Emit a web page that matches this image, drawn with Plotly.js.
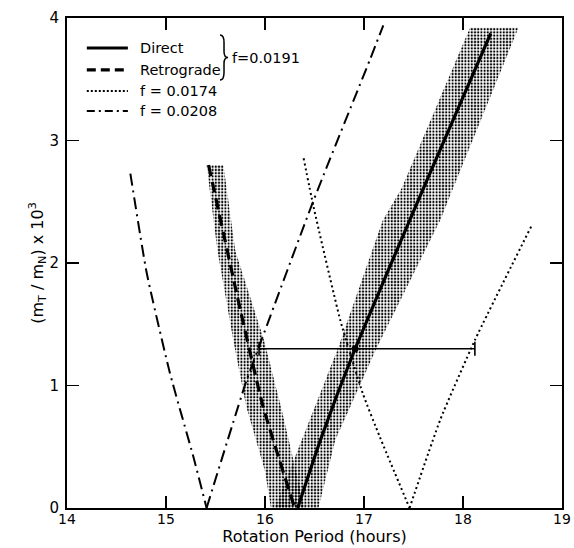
<!DOCTYPE html>
<html>
<head>
<meta charset="utf-8">
<script src="https://cdn.plot.ly/plotly-3.0.1.min.js"></script>
<style>
html,body{margin:0;padding:0;background:#fff;}
#chart{width:574px;height:548px;}
</style>
</head>
<body>
<div id="chart"></div>
<script>
// ---- Data ----
// f = 0.0191 direct branch
var directX = [16.33, 16.56, 16.91, 17.60, 18.28];
var directY = [0, 0.555, 1.30, 2.61, 3.875];
// f = 0.0191 retrograde branch
var retroX = [15.43, 15.75, 15.98, 16.30];
var retroY = [2.80, 1.62, 0.83, 0];
// f = 0.0174 (left and right branches)
var f174LeftX = [16.39, 16.49, 16.76, 16.99, 17.16, 17.46];
var f174LeftY = [2.855, 2.46, 1.535, 0.93, 0.58, 0];
var f174RightX = [17.46, 17.77, 18.12, 18.69];
var f174RightY = [0, 0.72, 1.37, 2.30];
// f = 0.0208 (left and right branches)
var f208LeftX = [14.64, 14.805, 15.04, 15.276, 15.41];
var f208LeftY = [2.73, 1.92, 1.10, 0.42, 0];
var f208RightX = [15.41, 15.815, 15.95, 16.49, 17.06, 17.195];
var f208RightY = [0, 1.045, 1.34, 2.51, 3.66, 3.94];
// uncertainty bands (stippled)
var bandRetroX = [15.41, 15.52, 15.68, 15.81, 16.00, 16.06, 16.40, 16.16, 15.99, 15.70, 15.58, 15.41];
var bandRetroY = [2.80, 2.10, 1.37, 0.83, 0.30, 0, 0, 0.83, 1.37, 2.10, 2.80, 2.80];
var bandDirectX = [16.10, 16.37, 16.74, 17.19, 17.38, 18.07, 18.56, 17.90, 17.77, 17.13, 16.71, 16.54, 16.10];
var bandDirectY = [0, 0.555, 1.31, 2.35, 2.61, 3.92, 3.92, 2.61, 2.35, 1.31, 0.555, 0, 0];
// measured point with horizontal error bar
var obsX = [16.91];
var obsY = [1.30];
var obsErrPlus = [1.21];
var obsErrMinus = [0.97];
// tick labels
var xTicks = [14, 15, 16, 17, 18, 19];
var yTicks = [0, 1, 2, 3, 4];
// legend labels
var legendLabels = ["Direct", "Retrograde", "f = 0.0174", "f = 0.0208"];
var groupLabel = "f=0.0191";

var FONT = "DejaVu Sans, Arial, sans-serif";
var pat = {shape: '.', fgcolor: '#000', bgcolor: 'rgba(0,0,0,0)', size: 3.2, solidity: 0.38};

function curve(x, y, w, dash) {
  return {x: x, y: y, mode: 'lines', hoverinfo: 'skip', showlegend: false,
          line: {color: '#000', width: w, dash: dash, shape: 'spline', smoothing: 0.5}};
}

var traces = [
  {x: bandRetroX, y: bandRetroY, mode: 'lines', fill: 'toself', fillcolor: 'rgba(0,0,0,0)',
   fillpattern: pat, line: {width: 0, color: 'rgba(0,0,0,0)'}, hoverinfo: 'skip', showlegend: false},
  {x: bandDirectX, y: bandDirectY, mode: 'lines', fill: 'toself', fillcolor: 'rgba(0,0,0,0)',
   fillpattern: pat, line: {width: 0, color: 'rgba(0,0,0,0)'}, hoverinfo: 'skip', showlegend: false},
  curve(f208LeftX, f208LeftY, 2, '12px,5px,2px,5px'),
  curve(f208RightX, f208RightY, 2, '12px,5px,2px,5px'),
  curve(f174LeftX, f174LeftY, 2, '2px,3px'),
  curve(f174RightX, f174RightY, 2, '2px,3px'),
  curve(retroX, retroY, 3.2, '11px,6px'),
  curve(directX, directY, 3.2, 'solid'),
  {x: obsX, y: obsY, mode: 'markers', marker: {color: '#000', size: 7}, hoverinfo: 'skip',
   error_x: {type: 'data', symmetric: false, array: obsErrPlus, arrayminus: obsErrMinus, color: '#000', thickness: 1.6, width: 7},
   showlegend: false}
];

// legend built from shapes + annotations (paper coords)
var rowsY = [0.939, 0.894, 0.851, 0.810];
var dashes = ['solid', '9px,5px', '2px,2px', '8px,4px,2px,4px'];
var widths = [3, 3.2, 1.8, 2];
var shapes = [];
var annotations = [];
for (var i = 0; i < legendLabels.length; i++) {
  shapes.push({type: 'line', xref: 'paper', yref: 'paper', x0: 0.040, x1: 0.123, y0: rowsY[i], y1: rowsY[i],
               line: {color: '#000', width: widths[i], dash: dashes[i]}});
  annotations.push({xref: 'paper', yref: 'paper', x: 0.143, y: rowsY[i], xanchor: 'left', yanchor: 'middle',
                    text: legendLabels[i], showarrow: false, font: {family: FONT, size: 14.5, color: '#000'}});
}
// curly brace grouping Direct / Retrograde
shapes.push({type: 'path', xref: 'paper', yref: 'paper',
  path: 'M 0.3091,0.9653 Q 0.3172,0.9653 0.3172,0.9500 L 0.3172,0.9316 Q 0.3172,0.9194 0.3253,0.9194 ' +
        'Q 0.3172,0.9194 0.3172,0.9072 L 0.3172,0.8888 Q 0.3172,0.8735 0.3091,0.8735',
  line: {color: '#000', width: 1.5}});
annotations.push({xref: 'paper', yref: 'paper', x: 0.329, y: 0.918, xanchor: 'left', yanchor: 'middle',
                  text: groupLabel, showarrow: false, font: {family: FONT, size: 14.5, color: '#000'}});

var layout = {
  width: 574, height: 548,
  margin: {l: 67, r: 12, t: 18, b: 40},
  paper_bgcolor: '#fff', plot_bgcolor: '#fff',
  showlegend: false,
  font: {family: FONT, color: '#000', size: 15},
  xaxis: {range: [14, 19], tickvals: xTicks, ticktext: xTicks.map(String), ticks: 'inside', ticklen: 12, tickwidth: 1.5,
          tickcolor: '#000', showline: true, linecolor: '#000', linewidth: 2, mirror: 'ticks', showgrid: false, zeroline: false,
          tickfont: {family: FONT, size: 14}, automargin: false, ticklabelstandoff: -3,
          title: {text: 'Rotation Period (hours)', font: {family: FONT, size: 16}, standoff: 2}},
  yaxis: {range: [0, 4], tickvals: yTicks, ticktext: yTicks.map(String), ticks: 'inside', ticklen: 12, tickwidth: 1.5,
          tickcolor: '#000', showline: true, linecolor: '#000', linewidth: 2, mirror: 'ticks', showgrid: false, zeroline: false,
          tickfont: {family: FONT, size: 15}, automargin: false, ticklabelstandoff: 3,
          title: {text: '(m<sub>T</sub> / m<sub>N</sub>) x 10<sup>3</sup>', font: {family: FONT, size: 16}, standoff: 2}},
  shapes: shapes,
  annotations: annotations
};

Plotly.newPlot('chart', traces, layout, {displayModeBar: false, staticPlot: true});
</script>
</body>
</html>
